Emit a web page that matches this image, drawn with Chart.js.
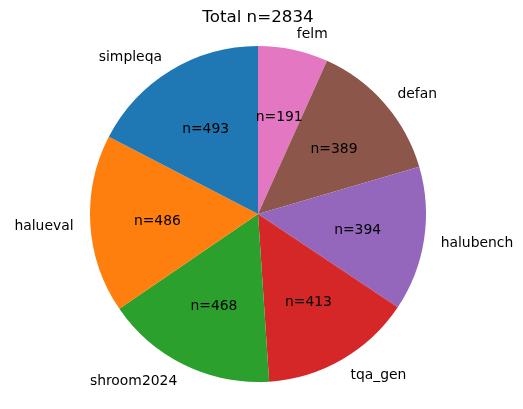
<!DOCTYPE html>
<html>
<head>
<meta charset="utf-8">
<script src="https://cdn.jsdelivr.net/npm/chart.js@4/dist/chart.umd.min.js"></script>
<style>
  body { margin: 0; background: #fff; }
  canvas { display: block; }
</style>
</head>
<body>
<canvas id="pie" width="523" height="409"></canvas>
<script>
// matplotlib order (counterclockwise from top)
const categories = ['simpleqa', 'halueval', 'shroom2024', 'tqa_gen', 'halubench', 'defan', 'felm']
const counts = [493, 486, 468, 413, 394, 389, 191]
const colors = ['#1f77b4', '#ff7f0e', '#2ca02c', '#d62728', '#9467bd', '#8c564b', '#e377c2']
const total = counts.reduce((a, b) => a + b, 0)

// chart.js goes clockwise, so reverse
const labels = categories.slice().reverse()
const values = counts.slice().reverse()
const bg = colors.slice().reverse()

const FONT = '"DejaVu Sans", sans-serif'

const pieText = {
    id: 'pieText',
    afterDatasetsDraw(chart) {
        const ctx = chart.ctx
        const arcs = chart.getDatasetMeta(0).data
        ctx.save()
        ctx.fillStyle = '#000'
        ctx.font = '13.9px ' + FONT
        ctx.textBaseline = 'middle'
        arcs.forEach((arc, i) => {
            const mid = (arc.startAngle + arc.endAngle) / 2
            const r = arc.outerRadius
            const cx = Math.cos(mid), cy = Math.sin(mid)
            // outer label
            const lx = arc.x + cx * r * 1.1
            const ly = arc.y + cy * r * 1.1 + 1.5
            ctx.textAlign = cx > 0 ? 'left' : 'right'
            ctx.fillText(labels[i], lx, ly)
            // count label
            ctx.textAlign = 'center'
            ctx.fillText('n=' + values[i], arc.x + cx * r * 0.6, arc.y + cy * r * 0.6 + 1.5)
        })
        // title
        ctx.font = '16.7px ' + FONT
        ctx.textAlign = 'center'
        ctx.textBaseline = 'alphabetic'
        ctx.fillText('Total n=' + total, arcs[0].x, 22)
        ctx.restore()
    }
}

new Chart(document.getElementById('pie'), {
    type: 'pie',
    data: {
        labels: labels,
        datasets: [{
            data: values,
            backgroundColor: bg,
            borderWidth: 0
        }]
    },
    options: {
        responsive: false,
        animation: false,
        rotation: 0,
        layout: { padding: { top: 46, bottom: 27, left: 0, right: 7 } },
        plugins: {
            legend: { display: false },
            title: { display: false },
            tooltip: { enabled: false }
        }
    },
    plugins: [pieText]
})
</script>
</body>
</html>
